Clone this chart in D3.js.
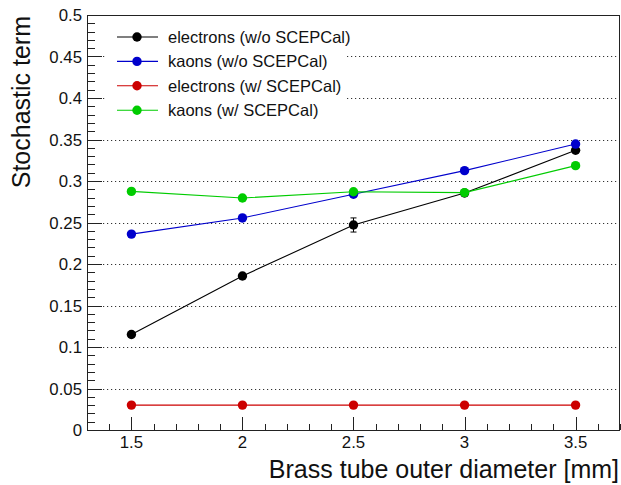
<!DOCTYPE html>
<html><head><meta charset="utf-8">
<script src="https://cdn.jsdelivr.net/npm/d3@7"></script>
<style>body{margin:0;background:#fff;} svg{display:block;font-family:"Liberation Sans",Arial,Helvetica,sans-serif;}</style>
</head><body><svg id="c" width="621" height="485"></svg>
<script>
const xValues = [1.5, 2.0, 2.5, 3.0, 3.5];
const seriesNames = ["electrons (w/o SCEPCal)", "kaons (w/o SCEPCal)", "electrons (w/ SCEPCal)", "kaons (w/ SCEPCal)"];
const seriesColors = ["#000000", "#0000cc", "#cc0000", "#00cc00"];
const electronsWithout = [0.115, 0.1855, 0.247, 0.2855, 0.337];
const electronsWithoutErr = [0.002, 0.002, 0.0085, 0.003, 0.004];
const kaonsWithout = [0.236, 0.2555, 0.284, 0.3125, 0.3445];
const electronsWith = [0.030, 0.030, 0.030, 0.030, 0.030];
const kaonsWith = [0.2875, 0.2795, 0.287, 0.286, 0.3185];
const yTickLabels = ["0", "0.05", "0.1", "0.15", "0.2", "0.25", "0.3", "0.35", "0.4", "0.45", "0.5"];
const xTickLabels = ["1.5", "2", "2.5", "3", "3.5"];

const seriesValues = [electronsWithout, kaonsWithout, electronsWith, kaonsWith];
const seriesErrors = [electronsWithoutErr, null, null, null];

const svg = d3.select("#c");
const L = 87, R = 620, T = 15, B = 430;
const x = d3.scaleLinear().domain([1.3, 3.7]).range([L, R]);
const y = d3.scaleLinear().domain([0, 0.5]).range([B, T]);
const axisColor = "#222";

// gridlines
const yMajor = yTickLabels.map(Number);
svg.append("g").selectAll("line").data(yMajor.filter(v => v > 0 && v < 0.5)).join("line")
  .attr("x1", L).attr("x2", R).attr("y1", d => Math.round(y(d)) + 0.5).attr("y2", d => Math.round(y(d)) + 0.5)
  .attr("stroke", "#333").attr("stroke-width", 1).attr("stroke-dasharray", "1.2,2.8");

// frame
svg.append("rect").attr("x", L + 0.5).attr("y", T + 0.5).attr("width", R - L - 1).attr("height", B - T)
  .attr("fill", "none").attr("stroke", axisColor).attr("stroke-width", 1);

// y axis ticks
const yMinor = d3.range(0, 51).map(i => i / 100);
svg.append("g").selectAll("line").data(yMinor).join("line")
  .attr("x1", L).attr("x2", (d, i) => L + (i % 5 === 0 ? 15 : 8))
  .attr("y1", d => Math.round(y(d)) + 0.5).attr("y2", d => Math.round(y(d)) + 0.5)
  .attr("stroke", axisColor).attr("stroke-width", 1);
svg.append("g").selectAll("text").data(yTickLabels).join("text")
  .attr("x", L - 5).attr("y", d => y(+d)).attr("dy", "0.36em")
  .attr("text-anchor", "end").attr("font-size", 16.8).attr("fill", "#111").text(d => d);

// x axis ticks
const xMinor = d3.range(14, 38).map(i => i / 10);
svg.append("g").selectAll("line").data(xMinor).join("line")
  .attr("x1", d => Math.round(x(d)) + 0.5).attr("x2", d => Math.round(x(d)) + 0.5)
  .attr("y1", B).attr("y2", d => B - (Math.abs(d * 2 - Math.round(d * 2)) < 1e-6 ? 13 : 6))
  .attr("stroke", axisColor).attr("stroke-width", 1);
svg.append("g").selectAll("text").data(xTickLabels).join("text")
  .attr("x", d => x(+d)).attr("y", 448)
  .attr("text-anchor", "middle").attr("font-size", 16.8).attr("fill", "#111").text(d => d);

// axis titles
svg.append("text").attr("x", R - 1).attr("y", 478).attr("text-anchor", "end")
  .attr("font-size", 25).attr("fill", "#111").text("Brass tube outer diameter [mm]");
svg.append("text").attr("transform", `translate(30,${T + 1}) rotate(-90)`).attr("text-anchor", "end")
  .attr("font-size", 25).attr("fill", "#111").text("Stochastic term");

// series
const line = d3.line().x(d => x(d[0])).y(d => y(d[1]));
seriesValues.forEach((vals, si) => {
  const pts = xValues.map((xv, i) => [xv, vals[i]]);
  const g = svg.append("g");
  g.append("path").attr("d", line(pts)).attr("fill", "none").attr("stroke", seriesColors[si]).attr("stroke-width", 1.1);
  const errs = seriesErrors[si];
  if (errs) {
    pts.forEach((p, i) => {
      const e = errs[i];
      if (y(p[1] - e) - y(p[1] + e) > 9) {
        g.append("line").attr("x1", x(p[0])).attr("x2", x(p[0])).attr("y1", y(p[1] - e)).attr("y2", y(p[1] + e)).attr("stroke", seriesColors[si]);
        [p[1] - e, p[1] + e].forEach(v => g.append("line").attr("x1", x(p[0]) - 3).attr("x2", x(p[0]) + 3).attr("y1", y(v)).attr("y2", y(v)).attr("stroke", seriesColors[si]));
      }
    });
  }
  g.selectAll("circle").data(pts).join("circle")
    .attr("cx", d => x(d[0])).attr("cy", d => y(d[1])).attr("r", 4.7).attr("fill", seriesColors[si]);
});

// legend
const lg = svg.append("g");
lg.append("rect").attr("x", 105).attr("y", 24).attr("width", 242).attr("height", 100).attr("fill", "#fff");
seriesNames.forEach((name, i) => {
  const cy = 37 + i * 24.4;
  lg.append("line").attr("x1", 117).attr("x2", 158).attr("y1", cy).attr("y2", cy).attr("stroke", seriesColors[i]).attr("stroke-width", 1.1);
  lg.append("circle").attr("cx", 137).attr("cy", cy).attr("r", 4.7).attr("fill", seriesColors[i]);
  lg.append("text").attr("x", 168).attr("y", cy).attr("dy", "0.36em").attr("font-size", 16.5).attr("fill", "#111").text(name);
});
</script></body></html>
